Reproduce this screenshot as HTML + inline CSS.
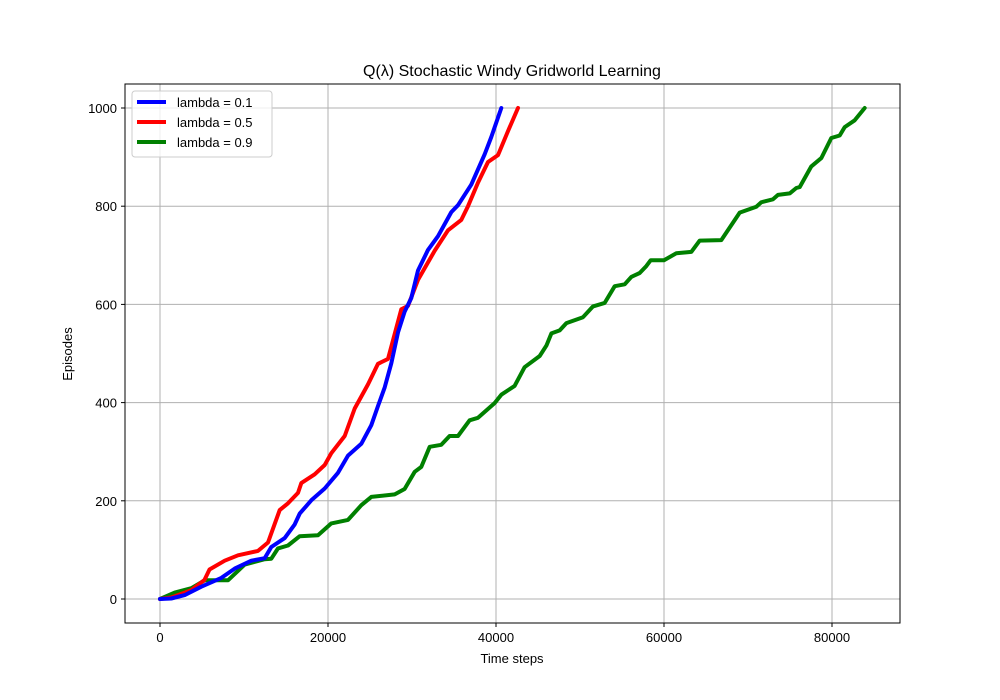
<!DOCTYPE html>
<html><head><meta charset="utf-8"><style>
body{margin:0;background:#fff;}
svg{display:block;font-family:"Liberation Sans","DejaVu Sans",sans-serif;}
</style></head><body>
<svg id="chart" width="1000" height="700" viewBox="0 0 1000 700" xmlns="http://www.w3.org/2000/svg">
<rect width="1000" height="700" fill="#fff"/>
<g id="grid"></g>
<g id="series"></g>
<rect x="125" y="84" width="775" height="539" fill="none" stroke="#000" stroke-width="1"/>
<g id="ticks"></g>
<text x="512" y="76" text-anchor="middle" font-size="16">Q(λ) Stochastic Windy Gridworld Learning</text>
<text x="512" y="663" text-anchor="middle" font-size="13">Time steps</text>
<text transform="translate(72,354) rotate(-90)" text-anchor="middle" font-size="13">Episodes</text>
<g>
<rect x="132" y="91" width="140" height="66" rx="3" fill="#fff" fill-opacity="0.8" stroke="#ccc"/>
<line x1="137" y1="102" x2="166" y2="102" stroke="#0000ff" stroke-width="4"/>
<text x="177" y="107" font-size="13">lambda = 0.1</text>
<line x1="137" y1="122" x2="166" y2="122" stroke="#ff0000" stroke-width="4"/>
<text x="177" y="127" font-size="13">lambda = 0.5</text>
<line x1="137" y1="142" x2="166" y2="142" stroke="#008000" stroke-width="4"/>
<text x="177" y="147" font-size="13">lambda = 0.9</text>
</g>
</svg>
<script>
const xTicks=[0,20000,40000,60000,80000];
const yTicks=[0,200,400,600,800,1000];
const blueX=[0,1349,2936,4920,7301,8888,10872,12460,13253,14840,16031,16626,18015,19602,21189,22380,23967,25157,25951,26745,27538,28332,29125,29919,30713,31903,33093,34680,35474,37061,38649,39442,40632];
const blueY=[0,1,8,25,43,62,78,83,106,124,152,174,201,225,257,292,316,354,393,431,480,543,585,613,669,711,739,788,802,844,906,941,1000];
const redX=[0,1349,3710,5297,5892,7698,9285,11666,12856,14245,15237,16427,16824,18411,19602,20395,21983,23173,24760,25951,27141,27538,28729,29522,30713,31506,32696,34284,35871,36665,37855,39045,40236,41426,42616];
const redY=[0,3,18,39,60,78,89,98,115,181,195,216,236,254,273,297,332,388,437,479,489,514,590,597,650,674,709,751,772,800,848,890,904,953,1000];
const greenX=[0,1746,3730,5317,8094,10078,12459,13253,14046,15237,16626,18808,20395,22380,23967,25157,27935,29125,30316,31110,32102,33490,34482,35474,36863,37855,39839,40632,42220,43410,45202,45996,46591,47583,48376,50358,51548,52937,54127,55317,56111,57103,57897,58413,60000,61468,63254,64246,66825,69008,70992,71587,72976,73571,74960,75754,76151,77540,78730,79921,80913,81508,82698,83889];
const greenY=[0,13,22,38,38,70,81,82,103,109,128,130,154,161,191,208,213,224,259,269,310,314,332,332,364,369,399,416,434,472,495,516,541,547,562,574,596,603,637,641,656,664,678,690,690,704,707,730,731,787,799,808,814,823,826,837,839,881,898,939,944,961,975,1000];
const NS="http://www.w3.org/2000/svg";
const xs=v=>160+v*0.0084;
const ys=v=>599-v*0.491;
const grid=document.getElementById('grid'),ticks=document.getElementById('ticks'),series=document.getElementById('series');
function mk(tag,attrs,parent){const e=document.createElementNS(NS,tag);for(const k in attrs)e.setAttribute(k,attrs[k]);parent.appendChild(e);return e;}
xTicks.forEach(t=>{
  const g=mk('line',{x1:xs(t),x2:xs(t),y1:84,y2:623,stroke:'#b0b0b0','stroke-width':1},grid);
  
  
  const tk=mk('line',{x1:xs(t),x2:xs(t),y1:623,y2:627,stroke:'#000'},ticks);
  
  
  const tx=mk('text',{x:xs(t),y:642,'text-anchor':'middle','font-size':13},ticks);
  
  
  tx.textContent=t;
});
yTicks.forEach(t=>{
  const g=mk('line',{x1:125,x2:900,y1:ys(t),y2:ys(t),stroke:'#b0b0b0','stroke-width':1},grid);
  
  
  const tk=mk('line',{x1:121,x2:125,y1:ys(t),y2:ys(t),stroke:'#000'},ticks);
  
  
  const tx=mk('text',{x:117,y:ys(t)+5,'text-anchor':'end','font-size':13},ticks);
  
  
  tx.textContent=t;
});
function line(X,Y,color,name){
  const p=mk('polyline',{points:X.map((x,i)=>xs(x).toFixed(1)+','+ys(Y[i]).toFixed(1)).join(' '),fill:'none',stroke:color,'stroke-width':4,'stroke-linejoin':'round','stroke-linecap':'round'},series);
  
  
}
line(greenX,greenY,'#008000','series-lambda-0-9');
line(redX,redY,'#ff0000','series-lambda-0-5');
line(blueX,blueY,'#0000ff','series-lambda-0-1');
</script>
</body></html>
